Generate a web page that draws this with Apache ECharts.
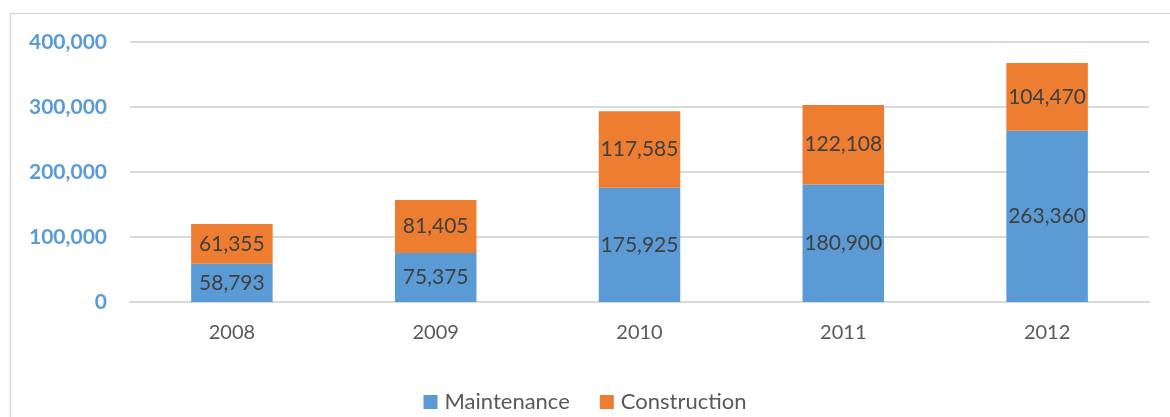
<!DOCTYPE html>
<html>
<head>
<meta charset="utf-8">
<script src="https://cdn.jsdelivr.net/npm/echarts@6/dist/echarts.min.js"></script>
<style>
  html, body { margin: 0; padding: 0; background: #fff; }
  #chart { width: 1170px; height: 417px; }
</style>
</head>
<body>
<div id="chart"></div>
<script>
// Yearly totals split into maintenance and construction
const years = ['2008', '2009', '2010', '2011', '2012'];
const maintenance = [58793, 75375, 175925, 180900, 263360];
const construction = [61355, 81405, 117585, 122108, 104470];
const seriesNames = ['Maintenance', 'Construction'];
const yTicks = [0, 100000, 200000, 300000, 400000];

const FONT = 'Lato, "Open Sans", sans-serif';
const fmt = v => v.toLocaleString('en-US');

const chart = echarts.init(document.getElementById('chart'), null, { renderer: 'canvas' });

const labelStyle = {
  show: true,
  position: 'inside',
  color: '#404040',
  fontFamily: FONT,
  fontSize: 21,
  formatter: p => fmt(p.value)
};

chart.setOption({
  animation: false,
  backgroundColor: '#ffffff',
  graphic: [{
    type: 'rect',
    shape: { x: 10.5, y: 13.5, width: 1200, height: 450 },
    style: { fill: 'none', stroke: '#d9d9d9', lineWidth: 1.5 },
    silent: true,
    z: -1
  }],
  grid: { left: 130, right: 21, top: 42, bottom: 115 },
  legend: {
    top: 386,
    left: 'center',
    itemWidth: 14,
    itemHeight: 14,
    itemGap: 30,
    icon: 'rect',
    textStyle: { color: '#595959', fontFamily: FONT, fontSize: 22, lineHeight: 22, padding: [0, 0, 0, 2] },
    data: seriesNames
  },
  xAxis: {
    type: 'category',
    data: years,
    axisLine: { lineStyle: { color: '#d9d9d9', width: 2 } },
    axisTick: { show: false },
    axisLabel: { color: '#595959', fontFamily: FONT, fontSize: 20, margin: 21 }
  },
  yAxis: {
    type: 'value',
    min: yTicks[0],
    max: yTicks[yTicks.length - 1],
    interval: yTicks[1] - yTicks[0],
    axisLine: { show: false },
    axisTick: { show: false },
    splitLine: { lineStyle: { color: '#d9d9d9', width: 2 } },
    axisLabel: {
      color: '#5b9bd5',
      fontFamily: FONT,
      fontWeight: 'bold',
      fontSize: 21,
      margin: 23,
      formatter: v => fmt(v)
    }
  },
  series: [
    {
      name: seriesNames[0],
      type: 'bar',
      stack: 'total',
      data: maintenance,
      barWidth: '40%',
      itemStyle: { color: '#5b9bd5' },
      label: labelStyle
    },
    {
      name: seriesNames[1],
      type: 'bar',
      stack: 'total',
      data: construction,
      barWidth: '40%',
      itemStyle: { color: '#ed7d31' },
      label: labelStyle
    }
  ]
});
</script>
</body>
</html>
